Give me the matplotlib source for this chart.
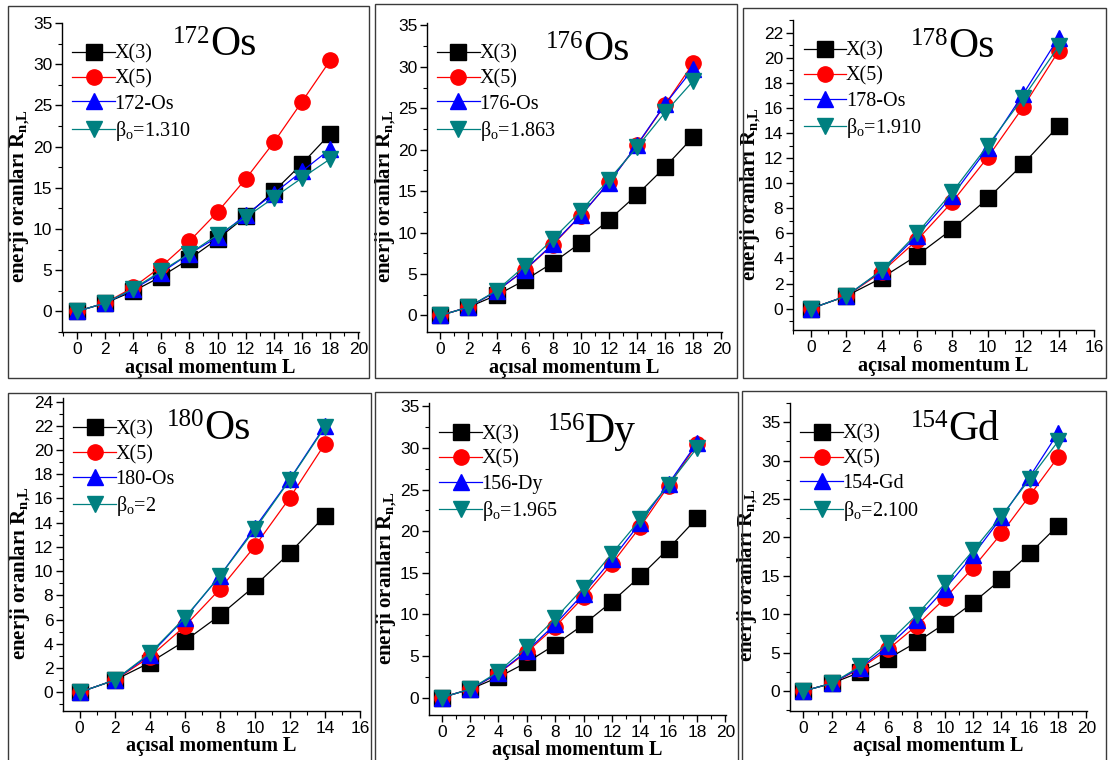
import matplotlib
matplotlib.use("Agg")
import matplotlib.pyplot as plt
from matplotlib.patches import Rectangle
from matplotlib.ticker import MultipleLocator

plt.rcParams["mathtext.default"] = "regular"

# ---- data -------------------------------------------------------------
L_long = [0, 2, 4, 6, 8, 10, 12, 14, 16, 18]
L_short = [0, 2, 4, 6, 8, 10, 12, 14]

x3_vals = [0, 1, 2.44, 4.23, 6.35, 8.78, 11.52, 14.57, 17.91, 21.55]
x5_vals = [0, 1, 2.91, 5.45, 8.51, 12.06, 16.07, 20.52, 25.45, 30.45]

os172_exp = [0, 1, 2.66, 4.70, 7.00, 9.00, 11.70, 14.30, 17.00, 19.70]
os172_fit = [0, 1, 2.72, 4.90, 7.00, 9.30, 11.40, 13.80, 16.20, 18.50]

os176_exp = [0, 1, 2.92, 5.48, 8.60, 12.10, 16.00, 20.60, 25.50, 29.80]
os176_fit = [0, 1, 3.00, 5.95, 9.20, 12.60, 16.40, 20.30, 24.50, 28.30]

os178_exp = [0, 1, 3.01, 5.80, 9.00, 12.80, 17.10, 21.60]
os178_fit = [0, 1, 3.05, 6.00, 9.30, 13.00, 16.80, 20.90]

os180_exp = [0, 1, 3.09, 6.10, 9.60, 13.60, 17.60, 22.00]
os180_fit = [0, 1, 3.20, 6.15, 9.60, 13.45, 17.55, 21.90]

dy156_exp = [0, 1, 2.93, 5.59, 8.82, 12.50, 16.60, 21.00, 25.70, 30.60]
dy156_fit = [0, 1, 3.10, 6.10, 9.50, 13.20, 17.30, 21.40, 25.60, 30.00]

gd154_exp = [0, 1, 3.01, 5.83, 9.29, 13.30, 17.70, 22.60, 27.90, 33.60]
gd154_fit = [0, 1, 3.20, 6.30, 9.90, 14.00, 18.30, 22.80, 27.60, 32.50]

nucleus_mass = ["172", "176", "178", "180", "156", "154"]
nucleus_sym = ["Os", "Os", "Os", "Os", "Dy", "Gd"]
exp_labels = ["172-Os", "176-Os", "178-Os", "180-Os", "156-Dy", "154-Gd"]
beta_labels = [r"$\beta_o$=1.310", r"$\beta_o$=1.863", r"$\beta_o$=1.910",
               r"$\beta_o$=2", r"$\beta_o$=1.965", r"$\beta_o$=2.100"]

# ---- layout (pixels) --------------------------------------------------
W, H = 1108, 760
# axes: x_left, x_right, y_top, y_bottom
axes_px = [(62, 359, 23, 332), (427, 722, 23, 332), (793, 1094, 20, 330),
           (63, 360, 398, 711), (429, 726, 403, 715), (790, 1087, 403, 711)]
# panel frames: x_left, y_top, x_right, y_bottom
frames_px = [(8, 6, 369, 378), (375, 4, 737, 378), (743, 8, 1106, 378),
             (8, 393, 371, 765), (375, 392, 738, 765), (742, 391, 1106, 765)]
xlims = [(-1.05, 20.05), (-0.95, 20.05), (-1.0, 16.0),
         (-0.95, 16.0), (-0.9, 20.05), (-0.95, 20.05)]
ylims = [(-2.5, 35), (-2.0, 35.3), (-1.7, 23.0),
         (-1.55, 24.3), (-2.1, 35.4), (-2.6, 37.5)]
ymaj = [5, 5, 2, 2, 5, 5]
# where the mass number meets the element symbol (axes fraction) and baseline
title_x = [0.50, 0.53, 0.515, 0.475, 0.525, 0.532]
title_y = [0.895, 0.88, 0.88, 0.87, 0.875, 0.88]

panels = [
    (L_long, os172_exp, os172_fit),
    (L_long, os176_exp, os176_fit),
    (L_short, os178_exp, os178_fit),
    (L_short, os180_exp, os180_fit),
    (L_long, dy156_exp, dy156_fit),
    (L_long, gd154_exp, gd154_fit),
]

SERIF = "Liberation Serif"
SANS = "Liberation Sans"

fig = plt.figure(figsize=(W / 100, H / 100), dpi=100)
fig.patch.set_facecolor("white")

for i, (Ls, exp, fit) in enumerate(panels):
    fx0, fy0, fx1, fy1 = frames_px[i]
    fig.add_artist(Rectangle((fx0 / W, 1 - fy1 / H), (fx1 - fx0) / W, (fy1 - fy0) / H,
                             transform=fig.transFigure, fill=False,
                             edgecolor="#3a3a3a", linewidth=1.0))

    x0, x1, yt, yb = axes_px[i]
    ax = fig.add_axes([x0 / W, 1 - yb / H, (x1 - x0) / W, (yb - yt) / H])
    n = len(Ls)
    lw = 0.9
    ax.plot(Ls, x3_vals[:n], color="black", marker="s", markersize=11,
            linewidth=lw, label="X(3)")
    ax.plot(Ls, x5_vals[:n], color="red", marker="o", markersize=11,
            linewidth=lw, label="X(5)")
    ax.plot(Ls, exp, color="blue", marker="^", markersize=12,
            linewidth=lw, label=exp_labels[i])
    ax.plot(Ls, fit, color="#008080", marker="v", markersize=12,
            linewidth=lw, label=beta_labels[i])

    ax.set_xlim(*xlims[i])
    ax.set_ylim(*ylims[i])
    ax.xaxis.set_major_locator(MultipleLocator(2))
    ax.xaxis.set_minor_locator(MultipleLocator(1))
    ax.yaxis.set_major_locator(MultipleLocator(ymaj[i]))
    ax.yaxis.set_minor_locator(MultipleLocator(ymaj[i] / 2))
    for s in ("top", "right"):
        ax.spines[s].set_visible(False)
    for s in ("left", "bottom"):
        ax.spines[s].set_linewidth(1.0)
    ax.tick_params(which="major", direction="out", length=5, width=1.0, pad=2,
                   labelsize=12.5)
    ax.tick_params(which="minor", direction="out", length=3, width=0.8)
    for lab in ax.get_xticklabels() + ax.get_yticklabels():
        lab.set_fontfamily(SANS)

    ax.set_xlabel("açısal momentum L", fontfamily=SERIF, fontweight="bold",
                  fontsize=14.5, labelpad=1 if i < 3 else 0)
    ax.set_ylabel("enerji oranları R$_{n{,}L}$", fontfamily=SERIF,
                  fontweight="bold", fontsize=15)
    ax.yaxis.set_label_coords(-0.1, 0.44)

    # nucleus name: mass number as a raised prefix
    ax.text(title_x[i], title_y[i], nucleus_sym[i], transform=ax.transAxes,
            ha="left", va="baseline", fontfamily=SERIF, fontsize=30)
    ax.annotate(nucleus_mass[i], xy=(title_x[i], title_y[i]),
                xycoords="axes fraction", xytext=(0, 9),
                textcoords="offset points", ha="right", va="baseline",
                fontfamily=SERIF, fontsize=18)

    ax.legend(loc="upper left", bbox_to_anchor=(0.035, 0.93), frameon=False,
              borderaxespad=0, borderpad=0, handlelength=2.1,
              handletextpad=0.0, labelspacing=0.28,
              prop={"family": SERIF, "size": 14.5})

fig.savefig("out.png", dpi=100, facecolor="white")
